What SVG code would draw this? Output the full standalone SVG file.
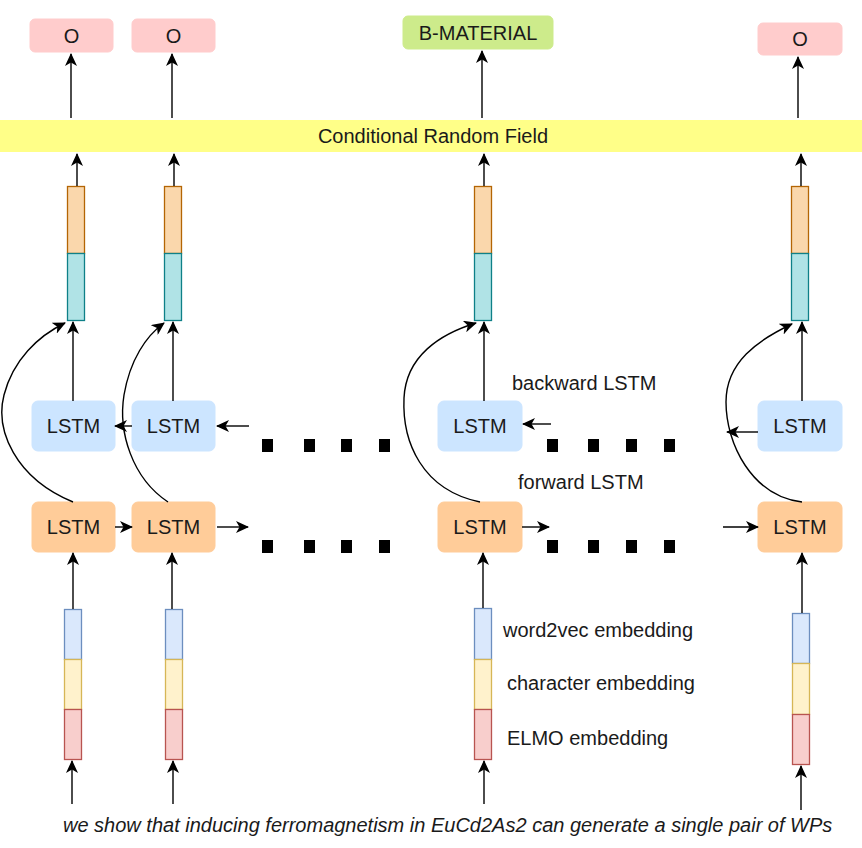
<svg xmlns="http://www.w3.org/2000/svg" width="862" height="848" viewBox="0 0 862 848">
<style>
text{font-family:"Liberation Sans",Arial,sans-serif;font-size:20px;fill:#1a1a1a}
.c{text-anchor:middle}
.lbl{fill:#ffcccc;stroke:#ffcccc}
.bm{fill:#cdeb8b;stroke:#cdeb8b}
.bw{fill:#cce5ff;stroke:#cce5ff}
.fw{fill:#ffcc99;stroke:#ffcc99}
.vo{fill:#fad7ac;stroke:#b46504;stroke-width:1.3}
.vt{fill:#b0e3e6;stroke:#0e8088;stroke-width:1.3}
.eb{fill:#dae8fc;stroke:#6c8ebf;stroke-width:1.3}
.ey{fill:#fff2cc;stroke:#d6b656;stroke-width:1.3}
.er{fill:#f8cecc;stroke:#b85450;stroke-width:1.3}
.a{fill:none;stroke:#000;stroke-width:1.4;marker-end:url(#ah)}
.l{fill:none;stroke:#000;stroke-width:1.4}
.dot{fill:#000}
</style>
<defs>
<marker id="ah" markerUnits="userSpaceOnUse" markerWidth="14" markerHeight="12" viewBox="0 0 14 12" refX="12" refY="6" orient="auto">
<path d="M0,0 L13,6 L0,12 L3.5,6 Z" fill="#000"/>
</marker>
</defs>
<rect width="862" height="848" fill="#fff"/>

<g id="crf">
<rect x="0" y="120" width="862" height="32" fill="#ffff88"/>
<text class="c" x="433" y="143">Conditional Random Field</text>
</g>

<g id="out1"><rect class="lbl" x="30" y="19" width="83" height="33" rx="5"/><text class="c" x="71.5" y="43">O</text></g>
<g id="out2"><rect class="lbl" x="132" y="19" width="83" height="33" rx="5"/><text class="c" x="173.5" y="43">O</text></g>
<g id="out3"><rect class="bm" x="403" y="16" width="150" height="33" rx="5"/><text class="c" x="478" y="40">B-MATERIAL</text></g>
<g id="out4"><rect class="lbl" x="758" y="23" width="84" height="32" rx="5"/><text class="c" x="800" y="46">O</text></g>

<g id="vec1"><rect class="vo" x="67.5" y="186.5" width="17" height="67"/><rect class="vt" x="67.5" y="253.5" width="17" height="67"/></g>
<g id="vec2"><rect class="vo" x="164.5" y="186.5" width="17" height="67"/><rect class="vt" x="164.5" y="253.5" width="17" height="67"/></g>
<g id="vec3"><rect class="vo" x="474.5" y="186.5" width="17" height="67"/><rect class="vt" x="474.5" y="253.5" width="17" height="67"/></g>
<g id="vec4"><rect class="vo" x="791.5" y="186.5" width="17" height="67"/><rect class="vt" x="791.5" y="253.5" width="17" height="67"/></g>

<g id="bw1"><rect class="bw" x="32" y="401" width="83" height="50" rx="6"/><text class="c" x="73.5" y="433">LSTM</text></g>
<g id="bw2"><rect class="bw" x="132" y="401" width="83" height="50" rx="6"/><text class="c" x="173.5" y="433">LSTM</text></g>
<g id="bw3"><rect class="bw" x="438" y="401" width="84" height="50" rx="6"/><text class="c" x="480" y="433">LSTM</text></g>
<g id="bw4"><rect class="bw" x="758" y="401" width="84" height="50" rx="6"/><text class="c" x="800" y="433">LSTM</text></g>

<g id="fw1"><rect class="fw" x="32" y="502" width="83" height="50" rx="6"/><text class="c" x="73.5" y="534">LSTM</text></g>
<g id="fw2"><rect class="fw" x="132" y="502" width="83" height="50" rx="6"/><text class="c" x="173.5" y="534">LSTM</text></g>
<g id="fw3"><rect class="fw" x="438" y="502" width="84" height="50" rx="6"/><text class="c" x="480" y="534">LSTM</text></g>
<g id="fw4"><rect class="fw" x="758" y="502" width="84" height="50" rx="6"/><text class="c" x="800" y="534">LSTM</text></g>

<g id="emb1"><rect class="eb" x="64.5" y="609.5" width="17" height="50"/><rect class="ey" x="64.5" y="659.5" width="17" height="50"/><rect class="er" x="64.5" y="709.5" width="17" height="50"/></g>
<g id="emb2"><rect class="eb" x="165.5" y="609.5" width="17" height="50"/><rect class="ey" x="165.5" y="659.5" width="17" height="50"/><rect class="er" x="165.5" y="709.5" width="17" height="50"/></g>
<g id="emb3"><rect class="eb" x="474.5" y="608.5" width="17" height="51"/><rect class="ey" x="474.5" y="659.5" width="17" height="50"/><rect class="er" x="474.5" y="709.5" width="17" height="50"/></g>
<g id="emb4"><rect class="eb" x="792.5" y="613.5" width="17" height="50"/><rect class="ey" x="792.5" y="663.5" width="17" height="51"/><rect class="er" x="792.5" y="714.5" width="17" height="50"/></g>

<g id="dots">
<rect class="dot" x="262" y="439" width="11" height="13"/><rect class="dot" x="304" y="439" width="11" height="13"/><rect class="dot" x="341" y="439" width="11" height="13"/><rect class="dot" x="379" y="439" width="11" height="13"/>
<rect class="dot" x="547" y="439" width="11" height="13"/><rect class="dot" x="588" y="439" width="11" height="13"/><rect class="dot" x="626" y="439" width="11" height="13"/><rect class="dot" x="664" y="439" width="11" height="13"/>
<rect class="dot" x="262" y="540" width="11" height="13"/><rect class="dot" x="304" y="540" width="11" height="13"/><rect class="dot" x="341" y="540" width="11" height="13"/><rect class="dot" x="379" y="540" width="11" height="13"/>
<rect class="dot" x="547" y="540" width="11" height="13"/><rect class="dot" x="588" y="540" width="11" height="13"/><rect class="dot" x="626" y="540" width="11" height="13"/><rect class="dot" x="664" y="540" width="11" height="13"/>
</g>

<g id="labels">
<text x="512" y="390">backward LSTM</text>
<text x="518" y="489">forward LSTM</text>
<text x="503" y="637">word2vec embedding</text>
<text x="507" y="690">character embedding</text>
<text x="507" y="745">ELMO embedding</text>
<text x="63" y="832" font-style="italic">we show that inducing ferromagnetism in EuCd2As2 can generate a single pair of WPs</text>
</g>

<g id="connectors">
<!-- CRF to outputs -->
<path class="a" d="M71,118 V54"/>
<path class="a" d="M172,118 V54"/>
<path class="a" d="M482,118 V51"/>
<path class="a" d="M798,118 V57"/>
<!-- vectors to CRF -->
<path class="a" d="M77,186 V154"/>
<path class="a" d="M174,186 V154"/>
<path class="a" d="M484,186 V154"/>
<path class="a" d="M801,186 V154"/>
<!-- backward LSTM to vectors -->
<path class="a" d="M73,401 V322"/>
<path class="a" d="M173,401 V322"/>
<path class="a" d="M484,401 V322"/>
<path class="a" d="M802,401 V322"/>
<!-- forward LSTM skip curves -->
<path class="a" d="M73,502 C15,478 -5,430 4,395 C13,360 38,336 65,323"/>
<path class="a" d="M168,502 C132,478 118,432 124,395 C130,360 146,336 164,323"/>
<path class="a" d="M480,502 C422,490 402,442 404,398 C406,356 440,334 476,323"/>
<path class="a" d="M802,502 C752,496 726,444 726,402 C726,362 758,340 792,324"/>
<!-- backward horizontal -->
<path class="a" d="M132,426 H115"/>
<path class="a" d="M249,426 H217"/>
<path class="a" d="M551,424 H523"/>
<path class="a" d="M758,432 H727"/>
<!-- forward horizontal -->
<path class="a" d="M115,527 H132"/>
<path class="a" d="M217,527 H248"/>
<path class="a" d="M522,527 H549"/>
<path class="a" d="M723,527 H758"/>
<!-- embedding to forward LSTM -->
<path class="a" d="M73,609 V553"/>
<path class="a" d="M172,609 V553"/>
<path class="a" d="M483,608 V553"/>
<path class="a" d="M802,613 V553"/>
<!-- input arrows -->
<path class="a" d="M72,804 V761"/>
<path class="a" d="M173,804 V761"/>
<path class="a" d="M484,804 V761"/>
<path class="a" d="M801,810 V766"/>
</g>
</svg>
